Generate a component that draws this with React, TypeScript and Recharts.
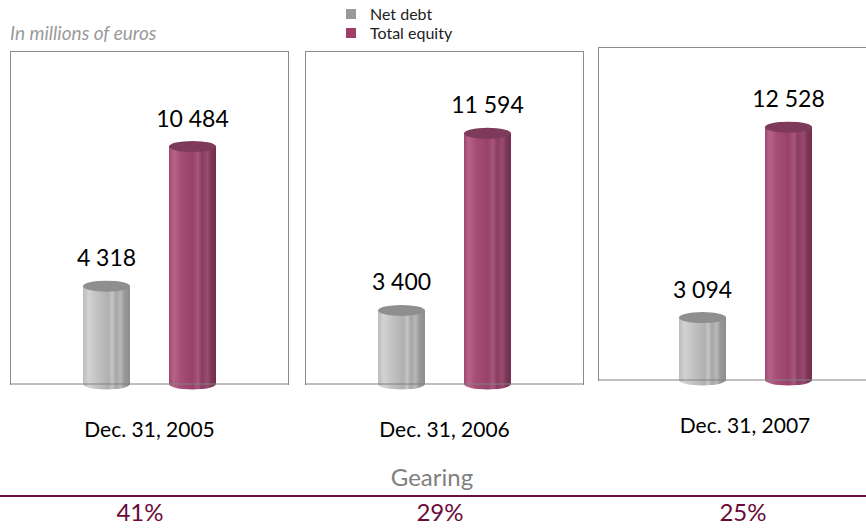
import { BarChart, Bar, XAxis, YAxis, LabelList } from "recharts"

const periods = ["Dec. 31, 2005", "Dec. 31, 2006", "Dec. 31, 2007"]
const netDebt = [4318, 3400, 3094]
const totalEquity = [10484, 11594, 12528]
const gearing = [41, 29, 25]
const seriesNames = ["Net debt", "Total equity"]

const FONT = "Lato, 'Open Sans', sans-serif"

// panel frames on the page (the third one runs off the right edge)
const panels = [
    { left: 10, top: 51, width: 279, max: 14700 },
    { left: 305, top: 51, width: 279, max: 15400 },
    { left: 598, top: 47, width: 294, max: 16500 },
]
const PLOT_H = 333
const gearingX = [140, 440, 743]

const fmt = (v: number) => String(v).replace(/\B(?=(\d{3})+(?!\d))/g, " ")

const Cylinder = (props: any) => {
    const { x, y, width, height, kind } = props
    const rx = width / 2
    const ry = 5.5
    const cx = x + rx
    const body = kind === "debt" ? "url(#gDebt)" : "url(#gEquity)"
    const top = kind === "debt" ? "#8f8f8f" : "#7d3a5a"
    return (
        <g>
            <ellipse cx={cx} cy={y + height} rx={rx} ry={ry} fill={body} />
            <rect x={x} y={y} width={width} height={height} fill={body} />
            <ellipse cx={cx} cy={y} rx={rx} ry={ry} fill={top} />
        </g>
    )
}

const DateTick = ({ x, y, payload }: any) => (
    <text x={x} y={y + 53} textAnchor="middle" fontFamily={FONT} fontSize={21} fill="#000">
        {payload.value}
    </text>
)

const ValueLabel = ({ x, y, width, value }: any) => (
    <text x={x + width / 2} y={y - 20} textAnchor="middle" fontFamily={FONT} fontSize={23} fill="#000">
        {fmt(value)}
    </text>
)

const Gradients = () => (
    <defs>
        <linearGradient id="gDebt" x1="0" x2="1" y1="0" y2="0">
            <stop offset="0" stopColor="#bcbcbc" />
            <stop offset="0.12" stopColor="#d2d2d2" />
            <stop offset="0.3" stopColor="#c2c2c2" />
            <stop offset="0.55" stopColor="#b0b0b0" />
            <stop offset="0.62" stopColor="#c6c6c6" />
            <stop offset="0.7" stopColor="#a6a6a6" />
            <stop offset="0.8" stopColor="#b8b8b8" />
            <stop offset="0.88" stopColor="#999999" />
            <stop offset="1" stopColor="#8e8e8e" />
        </linearGradient>
        <linearGradient id="gEquity" x1="0" x2="1" y1="0" y2="0">
            <stop offset="0" stopColor="#9e4770" />
            <stop offset="0.1" stopColor="#b8628a" />
            <stop offset="0.25" stopColor="#a64d76" />
            <stop offset="0.5" stopColor="#98426a" />
            <stop offset="0.62" stopColor="#a85680" />
            <stop offset="0.7" stopColor="#8a3c60" />
            <stop offset="0.82" stopColor="#9a4a70" />
            <stop offset="0.9" stopColor="#7e3656" />
            <stop offset="1" stopColor="#70304d" />
        </linearGradient>
    </defs>
)

const Panel = ({ i }: { i: number }) => {
    const p = panels[i]
    const data = [{ period: periods[i], debt: netDebt[i], equity: totalEquity[i] }]
    return (
        <div style={{ position: "absolute", left: p.left, top: p.top }}>
            <div
                style={{
                    position: "absolute", left: 0, top: 0, width: p.width - 2, height: PLOT_H,
                    borderTop: "1px solid #8c8c8c", borderLeft: "1px solid #8c8c8c", borderRight: "1px solid #8c8c8c",
                }}
            />
            <BarChart
                width={p.width}
                height={PLOT_H + 70}
                data={data}
                margin={{ top: 0, right: 0, bottom: 0, left: 0 }}
                barSize={47}
                barGap={39}
                style={{ overflow: "visible" }}
            >
                <Gradients />
                <XAxis
                    dataKey="period"
                    height={70}
                    axisLine={{ stroke: "#808080" }}
                    tickLine={false}
                    tickSize={0}
                    tickMargin={0}
                    tick={<DateTick />}
                />
                <YAxis hide domain={[0, p.max]} />
                <Bar dataKey="debt" name={seriesNames[0]} shape={(s: any) => <Cylinder {...s} kind="debt" />} isAnimationActive={false}>
                    <LabelList dataKey="debt" content={<ValueLabel />} />
                </Bar>
                <Bar dataKey="equity" name={seriesNames[1]} shape={(s: any) => <Cylinder {...s} kind="equity" />} isAnimationActive={false}>
                    <LabelList dataKey="equity" content={<ValueLabel />} />
                </Bar>
            </BarChart>
        </div>
    )
}

export default function App() {
    const legendColors = ["#999999", "#a23d6a"]
    return (
        <div style={{ position: "absolute", left: 0, top: 0, width: 866, height: 529, overflow: "hidden", background: "#fff", fontFamily: FONT }}>
            <div style={{ position: "absolute", left: 10, top: 21, fontSize: 19, fontStyle: "italic", color: "#9a9a9a", lineHeight: "24px" }}>
                In millions of euros
            </div>
            {seriesNames.map((n, k) => (
                <div key={n} style={{ position: "absolute", left: 346, top: 4 + k * 19, height: 19, display: "flex", alignItems: "center" }}>
                    <span style={{ width: 10, height: 10, background: legendColors[k], display: "inline-block" }} />
                    <span style={{ marginLeft: 14, fontSize: 16, color: "#222", lineHeight: "19px" }}>{n}</span>
                </div>
            ))}
            {panels.map((_, i) => <Panel key={i} i={i} />)}
            <div style={{ position: "absolute", left: 332, width: 200, top: 462, textAlign: "center", fontSize: 24, color: "#808080", lineHeight: "30px" }}>
                Gearing
            </div>
            <div style={{ position: "absolute", left: 0, top: 495, width: 866, height: 2, background: "#6d1040" }} />
            {gearing.map((g, i) => (
                <div key={i} style={{ position: "absolute", left: gearingX[i] - 50, width: 100, top: 497, textAlign: "center", fontSize: 24, color: "#6a0a38", lineHeight: "30px" }}>
                    {g}%
                </div>
            ))}
        </div>
    )
}
